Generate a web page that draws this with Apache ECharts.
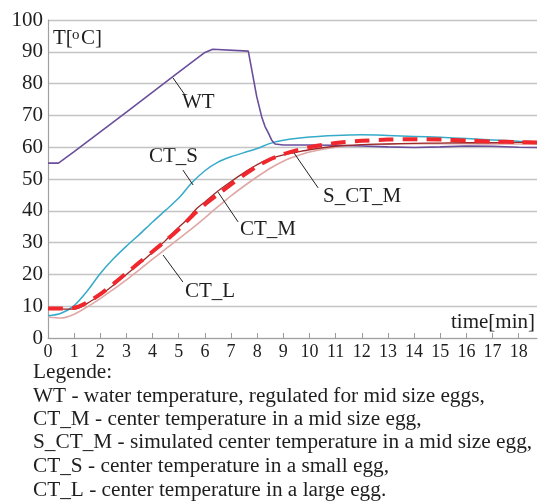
<!DOCTYPE html>
<html>
<head>
<meta charset="utf-8">
<script src="https://cdn.jsdelivr.net/npm/echarts@6/dist/echarts.min.js"></script>
<style>
html,body{margin:0;padding:0;background:#fff;}
#chart{width:542px;height:501px;}
</style>
</head>
<body>
<div id="chart"></div>
<script>
// ---- data (time in min, temperature in °C) ----
const xTicks = [0,1,2,3,4,5,6,7,8,9,10,11,12,13,14,15,16,17,18];
const yTicks = [0,10,20,30,40,50,60,70,80,90,100];

const WT = [[0,55],[0.4,55],[1,58.6],[2,64.8],[3,71],[4,77.3],[5,83.6],[6,89.8],[6.3,90.8],[7.66,90.2],
  [7.8,84],[7.98,76],[8.17,69.6],[8.3,66.5],[8.43,64.4],[8.55,62.3],[8.68,61],[9,60.7],[10,60.7],[11,60.6],[12,60.4],[13,60.1],[14,59.9],
  [15,60.1],[16,60.4],[17,60.3],[18,60],[18.7,59.9]];

const CT_S = [[0,7],[0.5,7.8],[1,10.2],[1.5,14.8],[2,20.3],[2.5,24.9],[3,28.9],[3.5,32.6],[4,36.5],[4.5,40.2],
  [5,44],[5.5,48.8],[6,52.6],[6.5,55.3],[7,57],[7.5,58.3],[8,59.6],[8.5,61.2],[9,62.2],[10,63.2],[11,63.7],
  [12,63.9],[13,63.7],[14,63.4],[15,63.1],[16,62.7],[17,62.3],[18,61.9],[18.7,61.7]];

const CT_M = [[0,9.3],[0.5,9.1],[1,9.1],[1.5,10.9],[2,13.5],[2.5,16.6],[3,20],[3.5,23.4],[4,27],[4.5,30.7],
  [5,34.8],[5.3,37.1],[5.7,40.8],[6,42.8],[6.5,46.2],[7,49.2],[7.5,52],[8,54.5],[8.5,56.4],[9,57.6],
  [9.5,58.4],[10,59.2],[11,60.3],[12,60.8],[13,61],[14,61.2],[15,61.3],[16,61.4],[17,61.4],[18,61.5],[18.7,61.5]];

const S_CT_M = [[0,9.3],[0.5,9.3],[1,9.5],[1.5,11.2],[2,13.8],[2.5,17],[3,20.4],[3.5,23.8],[4,27.2],[4.5,30.6],
  [5,34.2],[5.5,38.3],[6,42],[6.5,45.2],[7,48.3],[7.5,51.3],[8,54],[8.5,56.2],[9,57.8],[9.5,59],[10,60],
  [11,61.3],[12,62],[13,62.4],[14,62.5],[15,62.4],[16,62.1],[17,61.8],[18,61.6],[18.7,61.5]];

const CT_L = [[0,6.6],[0.5,6.3],[1,7.5],[1.5,9.8],[2,12.4],[2.5,15.3],[3,18.3],[3.5,21.5],[4,24.8],[4.5,28],
  [5,31.2],[5.5,34.4],[6,37.8],[6.5,41.3],[7,44.7],[7.5,47.8],[8,50.7],[8.5,53.4],[9,55.6],[9.5,57.2],
  [10,58.5],[11,60],[12,60.7],[13,61],[14,61.1],[15,61.1],[16,61.1],[17,61],[18,61],[18.7,61]];

const legendLines = [
  'Legende:',
  'WT - water temperature, regulated for mid size eggs,',
  'CT_M - center temperature in a mid size egg,',
  'S_CT_M - simulated center temperature in a mid size egg,',
  'CT_S - center temperature in a small egg,',
  'CT_L - center temperature in a large egg.'
];

// leader lines (data coordinates)
const leaders = {
  WT:     [[4.78,81.8],[5.24,76.4]],
  CT_S:   [[5.16,52.8],[5.55,48.1]],
  CT_M:   [[6.5,45.9],[7.27,36.5]],
  S_CT_M: [[9.33,59.1],[10.33,47.2]],
  CT_L:   [[4.4,26.1],[5.16,17.6]]
};

const FONT = '"Liberation Serif","Times New Roman",serif';
const TXT = '#1e1e1e';

function leader(name){
  return {
    silent: true, symbol: ['none','none'],
    lineStyle: {color:'#222', width:1, type:'solid'},
    label: {show:false},
    emphasis: {disabled:true},
    data: [[{coord: leaders[name][0]}, {coord: leaders[name][1]}]]
  };
}

function txt(text, x, y, size){
  return {
    type:'text', x:x, y:y, silent:true,
    style:{text:text, fill:TXT, font:(size||21)+'px '+FONT, verticalAlign:'middle', align:'left'}
  };
}

const graphics = [
  txt('T[', 53, 38),
  {type:'text', x:72, y:28, silent:true, style:{text:'o', fill:TXT, font:'15px '+FONT, verticalAlign:'top', align:'left'}},
  txt('C]', 81, 38),
  txt('WT', 182, 102),
  txt('CT_S', 149, 156),
  txt('CT_M', 240, 229.5),
  txt('S_CT_M', 323, 196),
  txt('CT_L', 185, 291),
  {type:'text', x:535, y:322, silent:true, style:{text:'time[min]', fill:TXT, font:'21px '+FONT, verticalAlign:'middle', align:'right'}}
];
const legendY = [372, 396, 419, 442.5, 466, 490];
legendLines.forEach((l,i)=>graphics.push(txt(l, 33, legendY[i], 21.3)));

const chart = echarts.init(document.getElementById('chart'), null, {renderer:'canvas'});
chart.setOption({
  animation:false,
  backgroundColor:'#fff',
  grid:{left:48, right:5, top:20, bottom:163, containLabel:false},
  xAxis:{
    type:'value', min:0, max:18.7, interval:1,
    axisLine:{show:true, onZero:false, lineStyle:{color:'#a0a0a0', width:1.2}},
    axisTick:{show:true, inside:true, length:5, customValues:xTicks, lineStyle:{color:'#9a9a9a', width:1}},
    axisLabel:{customValues:xTicks, margin:5, color:TXT, fontFamily:FONT, fontSize:18},
    splitLine:{show:false}
  },
  yAxis:{
    type:'value', min:0, max:100, interval:10,
    axisLine:{show:true, lineStyle:{color:'#a0a0a0', width:1.2}},
    axisTick:{show:false},
    axisLabel:{customValues:yTicks, margin:5, color:TXT, fontFamily:FONT, fontSize:21},
    splitLine:{show:true, lineStyle:{color:'#c4c4c4', width:1.3}}
  },
  graphic: graphics,
  series:[
    {name:'CT_L', type:'line', data:CT_L, smooth:0.3, showSymbol:false, z:2,
      lineStyle:{color:'#dfa7a5', width:1.6}, markLine:leader('CT_L')},
    {name:'CT_S', type:'line', data:CT_S, smooth:0.3, showSymbol:false, z:3,
      lineStyle:{color:'#35abc9', width:1.5}, markLine:leader('CT_S')},
    {name:'WT', type:'line', data:WT, smooth:false, showSymbol:false, z:4,
      lineStyle:{color:'#6a4e9c', width:1.6}, markLine:leader('WT')},
    {name:'CT_M', type:'line', data:CT_M, smooth:0.3, showSymbol:false, z:5,
      lineStyle:{color:'#9a2a2a', width:1.3}, markLine:leader('CT_M')},
    {name:'S_CT_M', type:'line', data:S_CT_M, smooth:0.3, showSymbol:false, z:6,
      lineStyle:{color:'#f0272c', width:4, type:[15,9]}, markLine:leader('S_CT_M')}
  ]
});
</script>
</body>
</html>
